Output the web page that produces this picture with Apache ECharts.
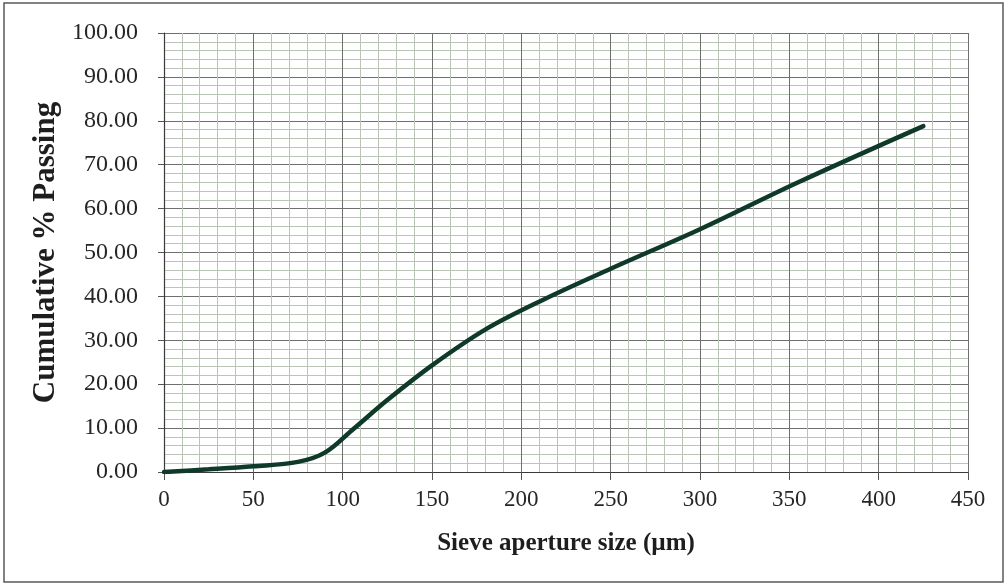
<!DOCTYPE html>
<html>
<head>
<meta charset="utf-8">
<script src="https://cdn.jsdelivr.net/npm/echarts@6/dist/echarts.min.js"></script>
<style>
  html, body { margin: 0; padding: 0; background: #ffffff; }
  #chart { width: 1006px; height: 585px; }
</style>
</head>
<body>
<div id="chart"></div>
<script>
// Particle size distribution: sieve aperture (µm) vs cumulative % passing
const sieveSizes = [0, 25, 50, 75, 90, 106, 125, 150, 180, 212, 250, 300, 355, 425];
const cumulativePassing = [0.0, 0.6, 1.3, 2.3, 4.4, 9.8, 16.4, 24.3, 32.5, 39.2, 46.3, 55.3, 66.0, 78.8];
const xTicks = [0, 50, 100, 150, 200, 250, 300, 350, 400, 450];
const yTicks = [0, 10, 20, 30, 40, 50, 60, 70, 80, 90, 100];

const points = sieveSizes.map((s, i) => [s, cumulativePassing[i]]);
const fontFamily = '"Liberation Serif", "Times New Roman", serif';

const chart = echarts.init(document.getElementById('chart'), null, { renderer: 'canvas' });
chart.setOption({
  backgroundColor: '#ffffff',
  animation: false,
  graphic: [{
    type: 'rect',
    shape: { x: 4, y: 3, width: 999, height: 579 },
    style: { fill: 'none', stroke: '#5a5a5a', lineWidth: 1.5 },
    silent: true
  }],
  grid: { left: 164, right: 38, top: 33, bottom: 113 },
  xAxis: {
    type: 'value',
    min: xTicks[0],
    max: xTicks[xTicks.length - 1],
    interval: 50,
    name: 'Sieve aperture size (µm)',
    nameLocation: 'middle',
    nameGap: 59,
    nameTextStyle: { fontFamily, fontSize: 25, fontWeight: 'bold', color: '#1e1e1e' },
    axisLine: { show: true, lineStyle: { color: '#3a3a3a', width: 1.2 } },
    axisTick: { show: true, length: 8, lineStyle: { color: '#555555' } },
    axisLabel: { fontFamily, fontSize: 23, color: '#262626', margin: 16 },
    splitLine: { show: true, lineStyle: { color: '#6f6f6f', width: 1 } },
    minorTick: { show: false, splitNumber: 5 },
    minorSplitLine: { show: true, lineStyle: { color: '#bac5b7', width: 1 } }
  },
  yAxis: {
    type: 'value',
    min: yTicks[0],
    max: yTicks[yTicks.length - 1],
    interval: 10,
    name: 'Cumulative % Passing',
    nameLocation: 'middle',
    nameGap: 102,
    nameTextStyle: { fontFamily, fontSize: 31, fontWeight: 'bold', color: '#1e1e1e' },
    axisLine: { show: true, lineStyle: { color: '#3a3a3a', width: 1.2 } },
    axisTick: { show: true, length: 6, lineStyle: { color: '#555555' } },
    axisLabel: {
      fontFamily, fontSize: 24, color: '#262626', margin: 26,
      formatter: v => v.toFixed(2)
    },
    splitLine: { show: true, lineStyle: { color: '#6f6f6f', width: 1 } },
    minorTick: { show: false, splitNumber: 5 },
    minorSplitLine: { show: true, lineStyle: { color: '#bac5b7', width: 1 } }
  },
  series: [{
    type: 'line',
    data: points,
    smooth: 0.35,
    showSymbol: false,
    lineStyle: { color: '#0f3a2a', width: 4.5, cap: 'round' },
    z: 5
  }]
});
</script>
</body>
</html>
